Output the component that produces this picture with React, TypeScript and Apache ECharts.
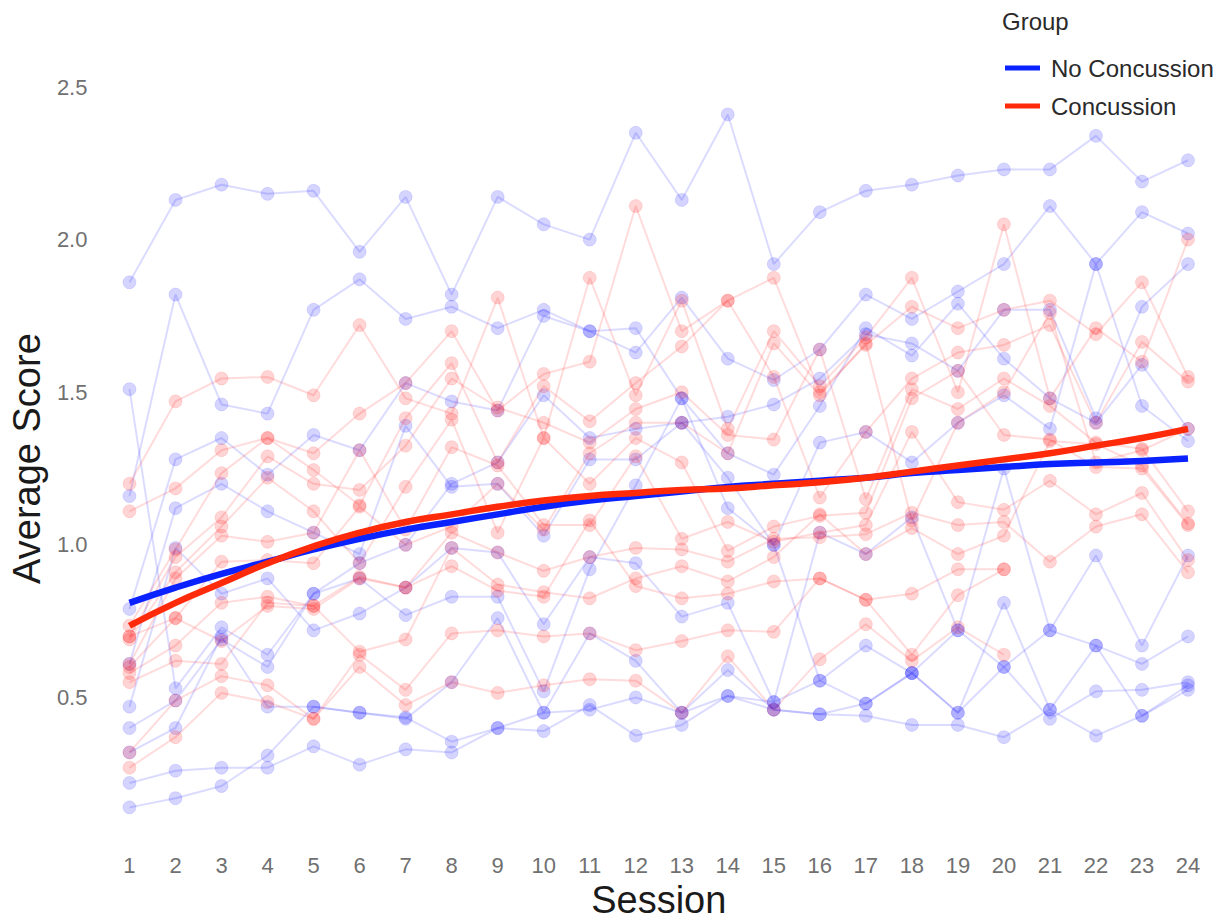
import React, { useEffect, useRef } from "react";
import * as echarts from "echarts";

const sessions = Array.from({ length: 24 }, (_, i) => i + 1);
const yTicks = [0.5, 1.0, 1.5, 2.0, 2.5];

// No Concussion participants
const nc1 = [1.86, 2.13, 2.18, 2.15, 2.16, 1.96, 2.14, 1.82, 2.14, 2.05, 2.0, 2.35, 2.13, 2.41, 1.92, 2.09, 2.16, 2.18, 2.21, 2.23, 2.23, 2.34, 2.19, 2.26];
const nc2 = [1.16, 1.82, 1.46, 1.43, 1.77, 1.87, 1.74, 1.78, 1.71, 1.77, 1.7, 1.63, 1.81, 1.61, 1.54, 1.64, 1.82, 1.74, 1.83, 1.92, 2.11, 1.92, 2.09, 2.02];
const nc3 = [1.51, 0.53, 0.73, 0.64, 0.84, 0.94, 1.0, 1.2, 1.27, 1.49, 1.35, 1.38, 1.4, 1.42, 1.46, 1.545, 1.69, 1.66, 1.57, 1.77, 1.77, 1.415, 1.78, 1.92];
const nc4 = [0.79, 1.28, 1.35, 1.23, 1.36, 1.31, 1.53, 1.47, 1.44, 1.75, 1.7, 1.71, 1.48, 1.3, 1.23, 1.455, 1.71, 1.62, 1.79, 1.61, 1.48, 1.4, 1.59, 1.38];
const nc5 = [0.61, 1.12, 1.2, 1.11, 1.04, 0.97, 1.39, 1.19, 1.2, 1.03, 1.28, 1.28, 1.4, 1.22, 1.0, 1.335, 1.37, 1.27, 1.4, 1.49, 1.38, 1.92, 1.455, 1.34];
const nc6 = [0.47, 0.99, 0.84, 0.89, 0.72, 0.775, 0.86, 0.99, 0.975, 0.74, 0.96, 0.94, 0.765, 0.81, 0.485, 1.04, 0.97, 1.09, 0.72, 1.25, 0.72, 0.965, 0.67, 0.965];
const nc7 = [0.4, 0.49, 0.69, 0.6, 0.84, 0.89, 0.77, 0.83, 0.83, 0.52, 0.92, 1.195, 1.48, 1.12, 1.0, 0.555, 0.67, 0.58, 0.45, 0.81, 0.46, 0.67, 0.61, 0.7];
const nc8 = [0.32, 0.4, 0.7, 0.47, 0.47, 0.45, 0.43, 0.55, 0.76, 0.45, 0.71, 0.62, 0.45, 0.59, 0.46, 0.445, 0.48, 0.58, 0.72, 0.6, 0.43, 0.52, 0.525, 0.55];
const nc9 = [0.22, 0.26, 0.27, 0.27, 0.34, 0.28, 0.33, 0.32, 0.4, 0.39, 0.475, 0.375, 0.41, 0.505, 0.46, 0.445, 0.44, 0.41, 0.41, 0.37, 0.46, 0.375, 0.44, 0.525];
const nc10 = [0.14, 0.17, 0.21, 0.31, 0.47, 0.45, 0.435, 0.355, 0.4, 0.45, 0.46, 0.5, 0.45, 0.505, 0.485, 0.555, 0.48, 0.58, 0.45, 0.6, 0.72, 0.67, 0.44, 0.54];

// Concussion participants (null = no session)
const c1 = [1.2, 1.47, 1.545, 1.55, 1.49, 1.72, 1.48, 1.43, 1.81, 1.35, 1.875, 1.49, 1.8, 1.38, 1.7, 1.52, 1.68, 1.875, 1.5, 2.05, 1.48, 1.71, 1.6, 2.0];
const c2 = [1.11, 1.185, 1.31, 1.35, 1.3, 1.43, 1.53, 1.7, 1.44, 1.56, 1.6, 2.11, 1.7, 1.8, 1.875, 1.5, 1.655, 1.78, 1.71, 1.77, 1.8, 1.69, 1.86, 1.55];
const c3 = [0.735, 0.985, 1.235, 1.35, 1.245, 1.13, 1.415, 1.595, 1.27, 1.52, 1.405, 1.53, 1.65, 1.8, 1.55, 1.155, 1.37, 1.545, 1.63, 1.655, 1.72, 1.4, 1.665, 1.535];
const c4 = [0.7, 0.96, 1.09, 1.29, 1.2, 1.18, 1.325, 1.545, 1.45, 1.4, 1.335, 1.445, 1.5, 1.36, 1.345, 1.64, 1.15, 1.51, 1.445, 1.545, 1.455, 1.335, 1.315, 1.11];
const c5 = [0.69, 0.91, 1.06, 1.22, 1.11, 0.94, 1.19, 1.41, 1.04, 1.35, 1.2, 1.35, 1.27, 0.98, 1.06, 1.095, 1.105, 1.48, 1.57, 1.36, 1.345, 1.255, 1.25, 1.065];
const c6 = [0.61, 0.89, 1.03, 1.01, 1.04, 1.31, 1.05, 1.32, 1.26, 1.065, 1.065, 1.29, 1.02, 1.075, 1.01, 1.04, 1.065, 1.37, 1.14, 1.115, 1.21, 1.1, 1.17, 0.95];
const c7 = [0.6, 0.76, 0.945, 0.95, 0.94, 1.125, 1.0, 1.06, 1.2, 1.05, 1.3, 1.4, 1.4, 1.3, 1.66, 1.49, 1.66, 1.08, 1.4, 1.5, 1.76, 1.27, 1.31, 1.38];
const c8 = [0.58, 0.67, 0.81, 0.83, 0.8, 0.895, 0.86, 1.04, 0.975, 0.915, 0.96, 0.99, 0.985, 0.945, 1.02, 1.025, 1.035, 1.105, 1.065, 1.075, 0.945, 1.06, 1.1, 0.91];
const c9 = [0.55, 0.62, 0.61, 0.81, 0.8, 0.65, 0.69, 0.99, 0.87, 0.845, 0.825, 0.89, 0.93, 0.88, 0.96, 1.1, 0.97, 1.055, 0.97, 1.03, 1.34, 1.33, 1.26, 1.07];
const c10 = [0.7, 0.76, 0.685, 0.8, 0.79, 0.89, 0.86, 0.93, 0.85, 0.83, 1.08, 0.865, 0.825, 0.84, 0.88, 0.89, 0.82, 0.84, 0.92, 0.92, null, null, null, null];
const c11 = [0.32, 0.49, 0.57, 0.54, 0.43, 0.64, 0.525, 0.71, 0.72, 0.7, 0.71, 0.655, 0.685, 0.72, 0.715, 0.89, 0.82, 0.64, 0.835, 0.92, null, null, null, null];
const c12 = [0.27, 0.37, 0.515, 0.485, 0.43, 0.6, 0.475, 0.55, 0.515, 0.54, 0.56, 0.555, 0.45, 0.635, 0.46, 0.625, 0.74, 0.62, 0.73, 0.64, null, null, null, null];

// Smoothed group trends
const trendNoConcussion = [0.81, 0.86, 0.905, 0.945, 0.985, 1.02, 1.05, 1.075, 1.1, 1.125, 1.145, 1.16, 1.175, 1.19, 1.2, 1.21, 1.22, 1.235, 1.245, 1.255, 1.265, 1.27, 1.275, 1.283];
const trendConcussion = [0.735, 0.81, 0.875, 0.94, 0.995, 1.04, 1.075, 1.1, 1.125, 1.145, 1.16, 1.17, 1.18, 1.185, 1.195, 1.205, 1.22, 1.24, 1.26, 1.28, 1.3, 1.325, 1.35, 1.38];

const noConcussionLines = [nc1, nc2, nc3, nc4, nc5, nc6, nc7, nc8, nc9, nc10];
const concussionLines = [c1, c2, c3, c4, c5, c6, c7, c8, c9, c10, c11, c12];

const BLUE = "#0a22ff";
const RED = "#ff2a0a";
const FONT = "'Liberation Sans', Arial, Helvetica, sans-serif";

function pairs(vals: (number | null)[]) {
  return sessions.map((s, i) => [s, vals[i] === null ? null : vals[i]]);
}

export default function App() {
  const ref = useRef<HTMLDivElement>(null);

  useEffect(() => {
    document.body.style.margin = "0";
    if (!ref.current) return;
    const chart = echarts.init(ref.current, null, { renderer: "svg" });

    const indiv = (vals: (number | null)[], idx: number, group: "nc" | "c") => ({
      type: "line",
      name: (group === "nc" ? "NC participant " : "C participant ") + (idx + 1),
      data: pairs(vals),
      symbol: "circle",
      symbolSize: 13,
      clip: false,
      connectNulls: false,
      lineStyle: {
        width: 2,
        color: group === "nc" ? "rgba(0,0,255,0.14)" : "rgba(255,0,0,0.14)",
      },
      itemStyle: {
        color: group === "nc" ? "rgba(0,0,255,0.17)" : "rgba(255,0,0,0.17)",
        borderColor: group === "nc" ? "rgba(0,0,255,0.10)" : "rgba(255,0,0,0.10)",
        borderWidth: 1,
      },
      emphasis: { disabled: true },
      z: 2,
    });

    const series: any[] = [];
    noConcussionLines.forEach((v, i) => series.push(indiv(v, i, "nc")));
    concussionLines.forEach((v, i) => series.push(indiv(v, i, "c")));
    series.push({
      type: "line",
      name: "No Concussion",
      data: pairs(trendNoConcussion),
      smooth: true,
      symbol: "none",
      clip: false,
      lineStyle: { width: 6.5, color: BLUE },
      itemStyle: { color: BLUE },
      z: 5,
    });
    series.push({
      type: "line",
      name: "Concussion",
      data: pairs(trendConcussion),
      smooth: true,
      symbol: "none",
      clip: false,
      lineStyle: { width: 6.5, color: RED },
      itemStyle: { color: RED },
      z: 6,
    });

    chart.setOption({
      animation: false,
      backgroundColor: "#ffffff",
      textStyle: { fontFamily: FONT },
      grid: { left: 125, right: 40, top: 87, bottom: 64.5, containLabel: false },
      xAxis: {
        type: "value",
        min: 1,
        max: 24,
        interval: 1,
        name: "Session",
        nameLocation: "middle",
        nameGap: 26,
        nameTextStyle: { fontSize: 38, color: "#1a1a1a", fontFamily: FONT },
        axisLine: { show: false },
        axisTick: { show: false },
        splitLine: { show: false },
        axisLabel: { fontSize: 22, color: "#707070", margin: 4, fontFamily: FONT },
      },
      yAxis: {
        type: "value",
        min: 0,
        max: 2.5,
        interval: 0.5,
        name: "Average Score",
        nameLocation: "middle",
        nameGap: 82,
        nameTextStyle: { fontSize: 38, color: "#1a1a1a", fontFamily: FONT, padding: [0, 0, 0, 20] },
        axisLine: { show: false },
        axisTick: { show: false },
        splitLine: { show: false },
        axisLabel: {
          fontSize: 22,
          color: "#707070",
          margin: 42,
          fontFamily: FONT,
          formatter: (v: number) => (yTicks.some((t) => Math.abs(t - v) < 1e-9) ? v.toFixed(1) : ""),
        },
      },
      legend: {
        data: ["No Concussion", "Concussion"],
        orient: "vertical",
        left: 1000,
        top: 51,
        itemWidth: 35,
        itemHeight: 5,
        itemGap: 14,
        icon: "rect",
        selectedMode: false,
        textStyle: { fontSize: 24, color: "#2a2a2a", fontFamily: FONT, padding: [0, 0, 0, 6] },
      },
      graphic: [
        {
          type: "text",
          left: 1002,
          top: 9,
          style: { text: "Group", fontSize: 24, fill: "#2a2a2a", fontFamily: FONT },
        },
      ],
      series,
    });

    return () => chart.dispose();
  }, []);

  return <div ref={ref} style={{ width: 1228, height: 924 }} />;
}
